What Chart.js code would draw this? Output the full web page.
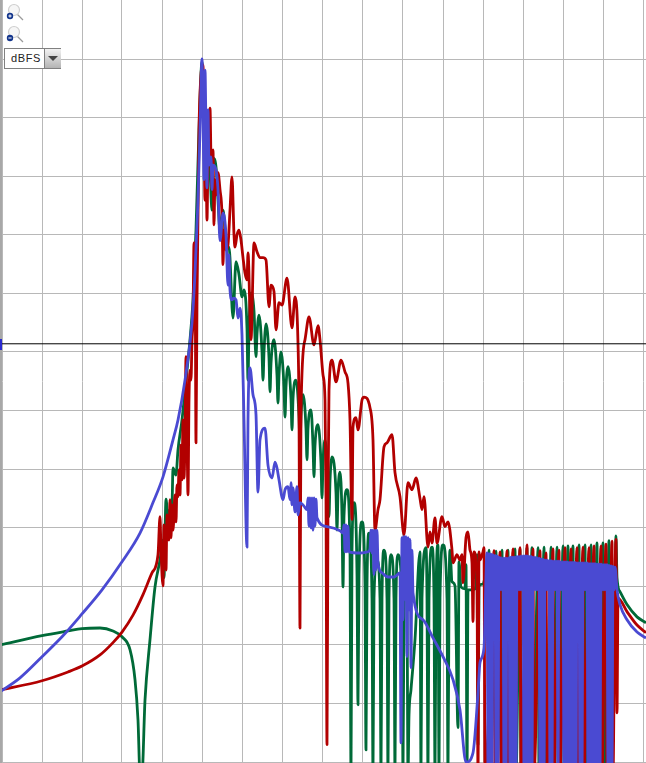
<!DOCTYPE html>
<html>
<head>
<meta charset="utf-8">
<title>Spectrum</title>
<script src="https://cdn.jsdelivr.net/npm/chart.js@4"></script>
<style>
  html, body { margin: 0; padding: 0; background: #fff; overflow: hidden; }
  #wrap { position: relative; width: 646px; height: 763px; }
  #edge { position: absolute; left: 0; top: 0; width: 2px; height: 763px; background: #a8a8a8; }
  #mark { position: absolute; left: 0; top: 339px; width: 2px; height: 11px; background: #2a2ad0; }
  .zoomIcon { position: absolute; left: 6px; width: 18px; height: 18px; }
  #unit { position: absolute; left: 4px; top: 48px; width: 55px; height: 19px; border: 1px solid #808080; background: #fff; box-sizing: content-box;
    font: 11px "Liberation Sans", sans-serif; letter-spacing: 0.6px; color: #222; line-height: 19px; }
  #unit span { position: absolute; left: 6px; top: 0; }
  #unit i { position: absolute; left: 39px; top: 0; width: 16px; height: 19px; border-left: 1px solid #808080; background: linear-gradient(#f2f2f2, #b4b4b4); }
  #unit i::after { content: ''; position: absolute; left: 3px; top: 7px; border-left: 5px solid transparent; border-right: 5px solid transparent; border-top: 5px solid #444; }
</style>
</head>
<body>
<div id="wrap">
  <canvas id="myChart" width="646" height="763"></canvas>
  <div id="edge"></div>
  <div id="mark"></div>
  <svg class="zoomIcon" style="top:3px" viewBox="0 0 18 18">
    <line x1="10" y1="10" x2="17" y2="17" stroke="#9a9a9a" stroke-width="1.3"/>
    <circle cx="8" cy="7" r="5.5" fill="#f6f6f6" stroke="#cfcfcf" stroke-width="1.2"/>
    <circle cx="4" cy="13" r="3.2" fill="#12348c"/>
    <path d="M2.4 13h3.2M4 11.4v3.2" stroke="#fff" stroke-width="1"/>
  </svg>
  <svg class="zoomIcon" style="top:25px" viewBox="0 0 18 18">
    <line x1="10" y1="10" x2="17" y2="17" stroke="#9a9a9a" stroke-width="1.3"/>
    <circle cx="8" cy="7" r="5.5" fill="#f6f6f6" stroke="#cfcfcf" stroke-width="1.2"/>
    <circle cx="4" cy="13" r="3.2" fill="#12348c"/>
    <path d="M2.4 13h3.2" stroke="#fff" stroke-width="1"/>
  </svg>
  <div id="unit"><span>dBFS</span><i></i></div>
</div>

<script>
'use strict';

// Grid positions
let binTicks = [2, 42, 82, 122, 162, 202, 242, 282, 322, 362, 402, 443, 483, 523, 563, 603, 643];
let dbTicks = [0, -10, -20, -30, -40, -50, -60, -70, -80, -90, -100, -110, -120];

// Cursor line
let cursorBins = [0, 646];
let cursorDb = [-48.6, -48.6];

// Red series
let redBins = [
  0, 42, 68, 82, 100, 113, 122, 133, 143, 152, 158, 160, 161, 163, 164, 166, 167, 169, 170, 171, 172, 173, 175, 176, 177, 178, 179, 180, 181, 182,
  183, 184, 185, 186, 187, 188, 189, 190, 191, 192, 193, 194, 195, 196, 197, 199, 201, 203, 204, 205, 206, 207, 208, 209, 210, 211, 212, 213, 214, 215,
  216, 218, 220, 222, 223, 224, 226, 228, 230, 232, 234, 235, 237, 239, 241, 243, 245, 247, 248, 251, 254, 257, 260, 263, 266, 269, 271, 274, 276, 279,
  282, 287, 292, 295, 298, 299, 300, 301, 305, 309, 314, 318, 320, 323, 325, 326, 327, 328, 329, 332, 336, 341, 345, 348, 350, 352, 353, 356, 358, 362, 364, 370, 373, 375,
  378, 380, 384, 387, 392, 395, 400, 404, 408, 412, 416, 420, 422, 424, 428, 430, 432, 435, 437, 442, 445, 448, 452, 453, 457, 460, 462, 463, 466, 468,
  470, 472, 473, 474, 477, 478, 479, 480, 483, 484, 485, 493,
  494, 495, 499, 500, 501, 506, 507, 508, 512, 513, 514, 519, 520, 521, 526, 527, 528, 532, 533, 534, 539, 540, 541, 545, 546, 547, 552,
  553, 554, 558, 559, 560, 564, 565, 566, 570, 571, 572, 576, 577, 578, 582, 583, 584, 588, 589, 590, 593, 594, 595, 600, 601, 602, 605,
  606, 607, 611, 612, 613, 615, 616, 617, 618, 627, 637, 646
];
let redDb = [
  -107.7, -106.1, -104.6, -103.6, -101.7, -99.6, -97.8, -94.9, -91.4, -87.7, -84.6, -78.1, -83.8, -89.9, -79.5, -87.2, -77.8, -82.1, -75.2, -81.7, -76.1, -80.4, -74.4, -79, -72.7, -74.7, -70.1, -74.4, -65.9, -71.8,
  -61.6, -71.5, -65, -50.8, -63.3, -74.4, -58.2, -53.1, -54.8, -47.9, -44.5, -31.4, -31.4, -65.5, -41.1, -12.1, -2.7, -1, -12.1, -24.1, -17.2, -27.5, -18.1, -17.2, -8.4, -17.2, -22.3, -15.5, -28.3, -20.6,
  -23.2, -19.4, -22.3, -26.6, -35.1, -29.2, -32.6, -31.7, -25.8, -20.1, -30, -32.1, -30, -29.2, -30.9, -33.9, -36.5, -37.7, -33.1, -47.9, -31.4, -32.9, -33.9, -33.9, -34.3, -42.3, -38.6, -39.7, -46.2, -41.6,
  -42, -37.4, -45.9, -40.6, -48.5, -60, -97.1, -60, -47.9, -44, -48.8, -45.5, -47.9, -53.9, -58.2, -75, -117, -75, -56.5, -51.4, -55.1, -51.4, -53.4, -55.3, -61.6, -78.6, -62.8, -61.2, -63.3, -58.2, -57.7, -59.5, -65, -80.4,
  -76.9, -75.2, -66.2, -65.5, -64.1, -70.6, -74.7, -81.2, -72.3, -73.5, -71.5, -75, -76.9, -74.7, -83.3, -80.7, -82.6, -78.3, -82.6, -78.1, -79.8, -79, -83.8, -86, -84.6, -85.5, -84.6, -89.4, -81.7, -80.7,
  -83.8, -86, -96, -84.1, -89.7, -122, -84.1, -85.5, -84.1, -83.4, -122, -88,
  -83.9, -122, -88, -84.1, -122, -88, -83.9, -122, -88, -83.6, -122, -88, -83.4, -122, -88, -82.9, -122, -88, -83.6, -122, -88, -83.9, -122, -88, -84.3, -122, -88,
  -83.6, -122, -88, -83.8, -122, -88, -83.4, -122, -88, -83.6, -122, -88, -83.4, -122, -88, -83.3, -122, -88, -83.4, -122, -88, -83.1, -122, -88, -83.1, -122, -88,
  -82.8, -122, -88, -82.3, -122, -88, -82, -111.6, -92, -94.3, -96.6, -97.9
];

// Green series
let greenBins = [
  0, 42, 68, 82, 100, 113, 122, 130, 135, 138, 140, 142, 145, 150, 155, 160, 163, 164, 166, 168, 170, 172, 173, 176, 178, 182, 186, 190, 193, 196,
  199, 202, 204, 206, 208, 210, 212, 213, 216, 218, 220, 223, 226, 228, 229, 233, 236, 239, 242,
  244, 247, 248, 249, 251, 254, 256, 257, 259, 262, 263, 264, 266, 269, 270, 271, 274, 277, 278, 279, 281, 284, 285, 286, 288, 291, 292, 293, 296,
  299, 300, 301, 303, 306, 307, 308, 311, 313, 314, 315, 318, 321, 322, 323, 325, 328, 329, 330, 332, 336, 337, 338, 340, 342, 343, 344, 347,
  350, 351, 352, 354, 357, 358, 359, 362, 365, 366, 367, 369, 372, 373, 374, 377, 380, 381, 382, 384, 387, 388, 389, 391, 394, 395, 396, 398,
  402, 403, 404, 405, 407, 408, 409, 411, 415, 420, 421, 422, 426, 427, 428, 429, 432, 434, 435, 436, 438, 439, 440, 443, 447, 448, 449, 450,
  452, 455, 458, 459, 461, 465, 466, 467, 468, 472, 476, 477, 478, 479, 483, 486, 488,
  489, 490, 495, 496, 497, 501, 502, 503, 507, 508, 509, 514, 515, 516, 519, 520, 521, 526, 527, 528, 531, 532, 533, 537, 538, 539, 543, 544, 545, 550,
  551, 552, 556, 557, 558, 562, 563, 564, 567, 568, 569, 572, 573, 574, 578, 579, 580, 584, 585, 586, 590, 591, 592, 596, 597, 598, 602, 603, 604, 608,
  609, 610, 615, 616, 617, 620, 627, 637, 646
];
let greenDb = [
  -100, -98.4, -97.6, -97.2, -97.1, -97.6, -98.6, -100.8, -105.9, -112.8, -122, -122, -109.4, -99.1, -90.1, -85.5, -82.1, -88.5, -75.1, -78.6, -76.9, -76.1, -69.8, -71, -66.7, -61.6, -54.8, -47.9, -41.1, -29.2,
  -12.1, -0.5, -12.1, -20.6, -12.5, -18.9, -25.8, -16.9, -18.4, -24.1, -29.2, -25.8, -30.9, -32.2, -32.1, -44.2, -34.6, -36.8, -40.6,
  -39.4, -46, -54.8, -46, -39.9, -43, -50.8, -47, -43.7, -50, -54.8, -50, -45.2, -51, -56.8, -52, -47.9, -54, -58.7, -54, -50, -56, -61.1, -56, -52.5, -58, -63.3, -58, -54.8,
  -61, -66.2, -61, -57.3, -63, -68.4, -63, -59.9, -66, -71.3, -66, -62.4, -69, -74.9, -69, -65, -72, -78.1, -72, -67.9, -74, -80.4, -74, -70.5, -78, -90.1, -78, -73.5,
  -84, -122, -84, -75.7, -88, -110.2, -88, -79, -90, -117.9, -90, -80.9, -92, -122, -92, -85.5, -92, -122, -92, -83.8, -92, -122, -92, -84.6, -92, -122, -92, -84.6,
  -92, -122, -92, -84.1, -92, -122, -112, -107.6, -99.1, -84.1, -122, -92, -83.4, -92, -122, -92, -83.3, -92, -122, -92, -82.9, -122, -92, -82.9, -92, -122, -92, -83.8,
  -89.2, -89.9, -114.1, -85.8, -90.1, -90.4, -86.3, -122, -90.6, -90.6, -90.2, -84.6, -117, -89.9, -89.6, -88, -90,
  -83.8, -122, -90, -84, -122, -90, -83.8, -122, -90, -83.8, -122, -90, -83.6, -122, -90, -83.6, -122, -90, -83.4, -122, -90, -83.4, -122, -90, -83.4, -122, -90, -83.3, -122, -90,
  -83.3, -122, -90, -83.3, -122, -90, -83.1, -122, -90, -83.1, -122, -90, -83.1, -122, -90, -82.9, -122, -90, -82.9, -122, -90, -82.9, -122, -90, -82.6, -122, -90, -82.6, -122, -90,
  -82.2, -122, -90, -81.4, -88.5, -90.9, -93.1, -95.2, -96.2
];

// Blue series
let blueBins = [
  0, 20, 42, 62, 82, 102, 122, 140, 153, 163, 173, 178, 185, 192, 195, 198, 200, 202, 203, 204, 205, 206, 207, 208, 209, 211, 212, 213, 216, 218, 220,
  223, 226, 228, 229, 230, 232, 234, 236, 238, 240, 242, 244, 247, 248, 250, 253, 256, 258, 260, 265, 268, 272, 275, 277, 279, 283, 285, 288, 290, 291,
  292, 293, 295, 297, 298, 300, 304, 307, 308, 309, 310, 311, 312, 313, 314, 315, 316, 317, 327, 340, 343, 344, 345, 346, 347, 348, 349, 360, 368, 370,
  371, 372, 373, 374, 375, 376, 377, 378, 382, 388, 394, 400, 401, 402, 403, 404, 405, 406, 407, 408, 409, 410, 411, 412, 413, 423, 433, 443, 453, 460,
  466, 473, 478, 480, 484,
  487, 488, 489, 490, 491, 492, 493, 494, 495, 496, 497, 498, 499, 500, 501, 502, 503, 504, 505, 506, 507, 508, 509, 510, 511, 512, 513, 514, 515, 516,
  517, 518, 519, 520, 521, 522, 523, 524, 525, 526, 527, 528, 529, 530, 531, 532, 533, 534, 535, 536, 537, 538, 539, 540, 541, 542, 543, 544, 545, 546,
  547, 548, 549, 550, 551, 552, 553, 554, 555, 556, 557, 558, 559, 560, 561, 562, 563, 564, 565, 566, 567, 568, 569, 570, 571, 572, 573, 574, 575, 576,
  577, 578, 579, 580, 581, 582, 583, 584, 585, 586, 587, 588, 589, 590, 591, 592, 593, 594, 595, 596, 597, 598, 599, 600, 601, 602, 603, 604, 605, 606,
  607, 608, 609, 610, 611, 612, 613, 614, 615, 617, 620, 627, 637, 646
];
let blueDb = [
  -108, -105.6, -102, -98.6, -94.7, -90.6, -85.8, -80.9, -75.7, -71.3, -65, -61.6, -54.8, -45, -36.5, -24.1, -12.1, 0, -8.7, -20.6, -1.9, -12.1, -22, -8.7, -18.1, -16.7, -22.3, -18.1, -18.9, -22.3, -31,
  -26.3, -30, -38.6, -33.4, -39.4, -41.1, -40.8, -41.1, -44.2, -42.5, -47.1, -61.6, -83.3, -61.6, -52.7, -57.3, -60.7, -73.9, -65, -63, -69.3, -71.5, -68.8, -69.8, -71.8, -75.2, -73.5, -73, -75.2, -72.3,
  -76.1, -73.2, -77.3, -73, -77.8, -75.7, -76.3, -76.9, -74.9, -79.7, -74.9, -80, -74.9, -80.4, -74.9, -79.7, -75.1, -78.3, -79.8, -80.5, -80.9, -79.5, -84.1, -79.5, -84.1, -79.7, -84.1, -84.3, -84.1, -83.6,
  -80.4, -84.3, -80.4, -88, -80.4, -87.2, -80.4, -86, -87.7, -88.4, -88.4, -87.7, -116.7, -81.7, -95.7, -81.5, -92.2, -81.5, -102, -81.7, -94, -82, -103.9, -83.8, -91.1, -95.7, -98.8, -102, -105.9, -111.1,
  -120, -118.4, -108.2, -103, -100.5,
  -84.3, -122, -84.4, -122, -84.5, -122, -84.6, -90.6, -84.7, -122, -84.8, -122, -85, -90.6, -85.1, -90.6, -85.2, -122, -85.2, -122, -85.2, -90.6, -85.1, -122, -85, -122, -85, -122, -85, -122,
  -84.9, -90.6, -84.9, -90.6, -84.8, -90.6, -84.8, -122, -84.8, -122, -84.8, -122, -84.9, -122, -84.9, -122, -85, -90.6, -85, -90.6, -85.1, -90.6, -85.2, -122, -85.3, -122, -85.4, -122, -85.5, -90.6,
  -85.5, -90.6, -85.6, -122, -85.6, -122, -85.7, -90.6, -85.7, -90.6, -85.7, -122, -85.7, -90.6, -85.8, -90.6, -85.8, -122, -85.8, -122, -85.8, -122, -85.9, -122, -85.9, -122, -85.9, -122, -85.9, -122,
  -86, -90.6, -86, -122, -86, -122, -86, -90.6, -86, -90.6, -86, -122, -86.1, -122, -86.1, -122, -86.1, -122, -86.1, -122, -86.2, -122, -86.2, -122, -86.2, -90.6, -86.3, -90.6, -86.3, -90.6,
  -86.3, -122, -86.4, -122, -86.5, -122, -86.6, -90.6, -86.7, -90.6, -93.1, -95.7, -97.8, -98.8
];

function makePoints(bins, levels) {
  let points = [];
  for (let i = 0; i < bins.length; i++) {
    points.push({ x: bins[i], y: levels[i] });
  }
  return points;
}

function makeSeries(label, bins, levels, color, width) {
  return {
    label: label,
    data: makePoints(bins, levels),
    borderColor: color,
    borderWidth: width,
    borderJoinStyle: 'round',
    pointRadius: 0,
    cubicInterpolationMode: 'monotone',
    fill: false
  };
}

function renderChart() {
  let chartObject = {
    type: 'line',
    data: {
      // last dataset in the list is painted first
      datasets: [
        makeSeries('cursor', cursorBins, cursorDb, '#000000', 1),
        makeSeries('blue', blueBins, blueDb, '#4a4ad2', 2.8),
        makeSeries('red', redBins, redDb, '#b20000', 2.8),
        makeSeries('green', greenBins, greenDb, '#006a38', 2.8)
      ]
    },
    options: {
      responsive: false,
      animation: false,
      normalized: true,
      layout: { padding: 0 },
      plugins: { legend: { display: false }, tooltip: { enabled: false } },
      scales: {
        x: {
          type: 'linear',
          min: 0,
          max: 646,
          border: { display: false },
          grid: { color: '#b8b8b8', lineWidth: 1, drawTicks: false },
          ticks: { display: false },
          afterBuildTicks: (axis) => { axis.ticks = binTicks.map((v) => ({ value: v })); }
        },
        y: {
          min: -120.14,
          max: 10.07,
          border: { display: false },
          grid: { color: '#b8b8b8', lineWidth: 1, drawTicks: false },
          ticks: { display: false },
          afterBuildTicks: (axis) => { axis.ticks = dbTicks.map((v) => ({ value: v })); }
        }
      }
    }
  };

  let ctx = document.getElementById('myChart').getContext('2d');
  let myChart = new Chart(ctx, chartObject);
}

renderChart();
</script>
</body>
</html>
